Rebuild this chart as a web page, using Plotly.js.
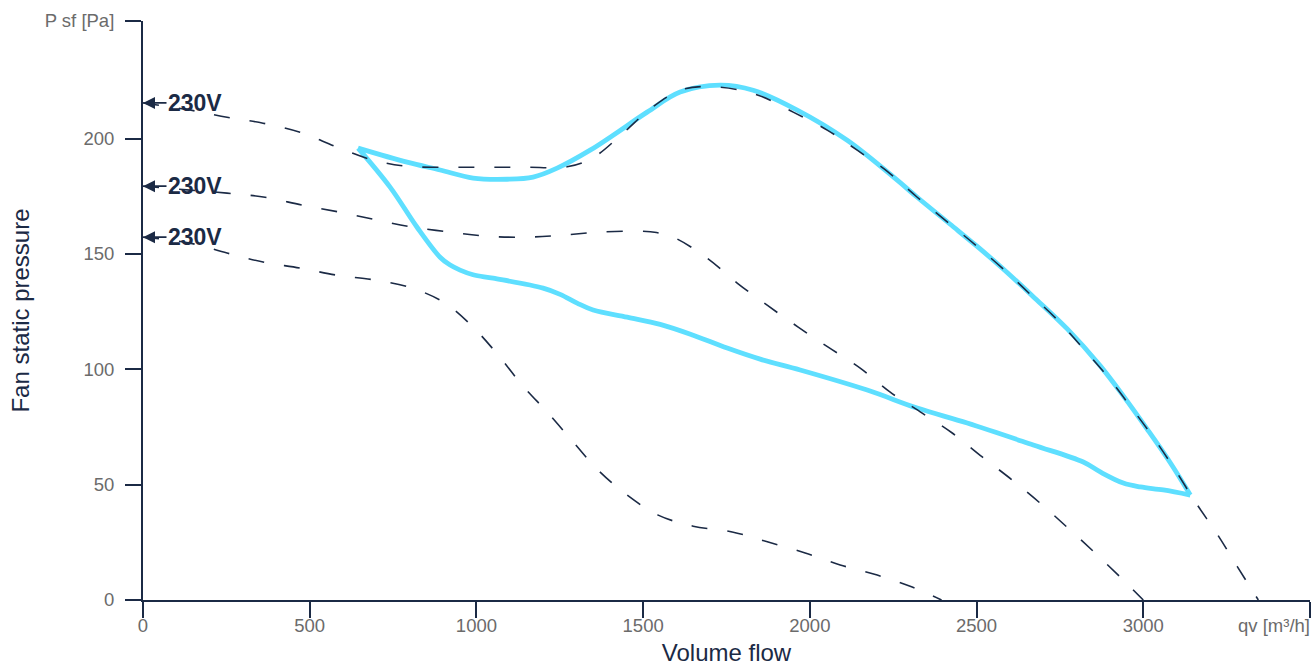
<!DOCTYPE html>
<html>
<head>
<meta charset="utf-8">
<script src="https://cdn.plot.ly/plotly-3.0.1.min.js"></script>
<style>html,body{margin:0;padding:0;background:#fff;}#chart{width:1313px;height:666px;}</style>
</head>
<body>
<div id="chart"></div>
<script>
// ---- Data ----
const topDashX = [0, 141, 252, 360, 471, 582, 690, 792, 912, 1030, 1150, 1272, 1350, 1440, 1527, 1620, 1731, 1845, 1950, 2052, 2142, 2235, 2322, 2420, 2500, 2580, 2661, 2742, 2820, 2892, 2961, 3030, 3096, 3156, 3222, 3282, 3345];
const topDashY = [215.5, 212.4, 209.3, 206.7, 202.8, 196.3, 190.7, 188, 187.6, 187.6, 187.6, 187.8, 191.8, 202.4, 213.6, 221.4, 222.3, 218.8, 211.5, 203.7, 195, 185.5, 174.6, 163, 153.5, 143.5, 132.5, 121.5, 109, 97, 84, 70.5, 56.3, 42.5, 28.5, 14.5, 0];

const midDashX = [0, 141, 252, 366, 477, 591, 702, 810, 921, 1032, 1152, 1260, 1371, 1485, 1540, 1596, 1692, 1782, 1872, 1965, 2055, 2151, 2241, 2337, 2427, 2517, 2607, 2697, 2781, 2862, 2946, 3000];
const midDashY = [179.4, 177.7, 176.4, 174.6, 171.2, 168.1, 164.7, 161.6, 159.5, 157.7, 157.3, 158.2, 159.5, 159.9, 159.3, 156.9, 148.2, 137.4, 127.8, 118.3, 109.6, 100.5, 90.1, 81, 72.4, 62, 52, 41.2, 30.3, 19.5, 7.8, 0];

const botDashX = [0, 141, 252, 360, 471, 582, 696, 807, 906, 990, 1065, 1137, 1215, 1290, 1365, 1452, 1545, 1650, 1767, 1875, 1986, 2091, 2202, 2307, 2395];
const botDashY = [157.3, 154.7, 150.4, 146.5, 143.9, 140.8, 138.7, 135.2, 128.7, 118.3, 106.2, 93.2, 81, 68.5, 56.3, 45.5, 36.8, 32, 29.5, 25.1, 20.4, 15.2, 10.8, 5.6, 0];

// Working area (cyan) - upper and lower boundaries
const areaUpperX = [645, 792, 891, 990, 1092, 1170, 1242, 1341, 1410, 1512, 1611, 1731, 1830, 1962, 2112, 2262, 2322, 2420, 2500, 2580, 2670, 2772, 2871, 2940, 3012, 3081, 3141];
const areaUpperY = [195.9, 189.8, 186.4, 182.9, 182.4, 183.3, 187.2, 195, 201.5, 211.5, 220.2, 223.2, 221, 212.4, 199.3, 182, 174.6, 163, 153.5, 143.5, 131.5, 117.5, 101.5, 88.5, 74, 59.5, 45.5];
const areaLowerX = [3141, 3060, 2991, 2940, 2871, 2820, 2670, 2472, 2322, 2172, 1971, 1851, 1752, 1650, 1551, 1452, 1350, 1302, 1251, 1200, 1050, 990, 951, 920, 891, 822, 741, 645];
const areaLowerY = [45.5, 47.7, 49, 50.7, 55.5, 59.8, 67.2, 76.7, 83.2, 91, 99.7, 104.4, 109.2, 114.8, 119.5, 122.6, 125.7, 128.7, 132.5, 135.2, 139.5, 141, 143, 145.3, 148.6, 161.6, 179, 195.9];

const curveLabels = ['230V', '230V', '230V'];
const curveStartY = [topDashY[0], midDashY[0], botDashY[0]];

const xTickVals = [0, 500, 1000, 1500, 2000, 2500, 3000, 3500];
const xTickText = ['0', '500', '1000', '1500', '2000', '2500', '3000', ''];
const yTickVals = [0, 50, 100, 150, 200, 251];
const yTickText = ['0', '50', '100', '150', '200', 'P sf [Pa]'];
const xUnitLabel = 'qv [m³/h]';

// ---- Styles ----
const navy = '#1b2a45';
const grey = '#6b6b6b';
const cyan = '#5edfff';
const font = 'Liberation Sans, Arial, sans-serif';

const dashStyle = {color: navy, width: 1.6, dash: '16px,20px', shape: 'spline', smoothing: 1};
const cyanStyle = {color: cyan, width: 4.8, shape: 'spline', smoothing: 1};

const traces = [
  {x: areaUpperX, y: areaUpperY, mode: 'lines', line: cyanStyle, hoverinfo: 'skip'},
  {x: areaLowerX, y: areaLowerY, mode: 'lines', line: cyanStyle, hoverinfo: 'skip'},
  {x: topDashX, y: topDashY, mode: 'lines', line: dashStyle, hoverinfo: 'skip'},
  {x: midDashX, y: midDashY, mode: 'lines', line: dashStyle, hoverinfo: 'skip'},
  {x: botDashX, y: botDashY, mode: 'lines', line: dashStyle, hoverinfo: 'skip'}
];

const annotations = curveLabels.map((t, i) => ({
  x: 0, y: curveStartY[i], xref: 'x', yref: 'y',
  text: '<b>' + t + '</b>',
  showarrow: true, arrowhead: 2, arrowsize: 1.5, arrowwidth: 1.6, arrowcolor: navy,
  ax: 52, ay: 0, standoff: 0,
  font: {family: font, size: 23, color: navy}
}));
annotations.push({
  x: 3500, y: 0, xref: 'x', yref: 'y', text: xUnitLabel, showarrow: false,
  xanchor: 'right', yanchor: 'top', yshift: -13, xshift: 2,
  font: {family: font, size: 18.5, color: grey}
});

const axisCommon = {
  showgrid: false, zeroline: false, showline: true, linecolor: navy, linewidth: 2,
  ticks: 'outside', ticklen: 16, tickwidth: 2, tickcolor: navy,
  tickfont: {family: font, size: 18.5, color: grey}, tickmode: 'array', fixedrange: true
};

const layout = {
  width: 1313, height: 666, autosize: false,
  margin: {l: 143, r: 3, t: 21, b: 66, pad: 0},
  paper_bgcolor: '#fff', plot_bgcolor: '#fff',
  showlegend: false,
  xaxis: Object.assign({}, axisCommon, {
    range: [0, 3500], tickvals: xTickVals, ticktext: xTickText,
    ticklabelstandoff: -8,
    title: {text: 'Volume flow', font: {family: font, size: 24, color: navy}, standoff: 18}
  }),
  yaxis: Object.assign({}, axisCommon, {
    range: [0, 251], tickvals: yTickVals, ticktext: yTickText,
    ticklabelstandoff: 7,
    title: {text: 'Fan static pressure', font: {family: font, size: 24, color: navy}, standoff: 8}
  }),
  annotations: annotations
};

Plotly.newPlot('chart', traces, layout, {staticPlot: true, displayModeBar: false});
</script>
</body>
</html>
